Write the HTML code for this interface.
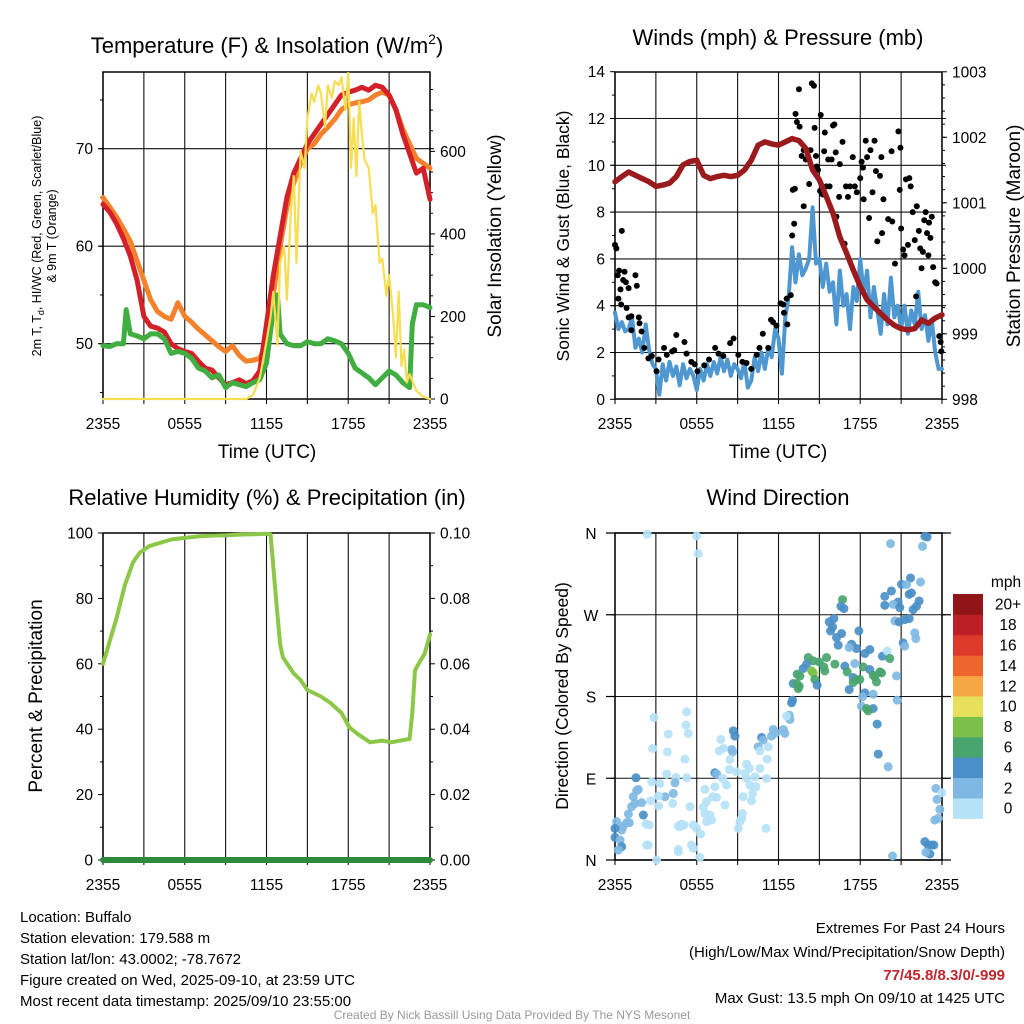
<!DOCTYPE html>
<html><head><meta charset="utf-8">
<style>
html,body{margin:0;padding:0;background:#fff;}
svg{display:block;font-family:"Liberation Sans",Arial,sans-serif;}
</style></head>
<body>
<svg id="c" width="1024" height="1024" viewBox="0 0 1024 1024">
<g id="g1"></g>
<g id="g2"></g>
<g id="g3"></g>
<g id="g4"></g>
<g fill="#000">
<text x="267" y="53" font-size="22" text-anchor="middle">Temperature (F) &amp; Insolation (W/m<tspan font-size="14" dy="-9">2</tspan><tspan dy="9">)</tspan></text>
<text x="778" y="45" font-size="22" text-anchor="middle">Winds (mph) &amp; Pressure (mb)</text>
<text x="267" y="505" font-size="22" text-anchor="middle">Relative Humidity (%) &amp; Precipitation (in)</text>
<text x="778" y="505" font-size="22" text-anchor="middle">Wind Direction</text>
<text transform="translate(41,236) rotate(-90)" font-size="12.5" text-anchor="middle">2m T, T<tspan font-size="9" dy="3">d</tspan><tspan dy="-3">, HI/WC (Red, Green, Scarlet/Blue)</tspan></text>
<text transform="translate(56,236) rotate(-90)" font-size="12.5" text-anchor="middle">&amp; 9m T (Orange)</text>
<text transform="translate(501,236) rotate(-90)" font-size="19" text-anchor="middle">Solar Insolation (Yellow)</text>
<text x="267" y="458" font-size="19" text-anchor="middle">Time (UTC)</text>
<text transform="translate(569,236) rotate(-90)" font-size="17.5" text-anchor="middle">Sonic Wind &amp; Gust (Blue, Black)</text>
<text transform="translate(1020,236) rotate(-90)" font-size="19" text-anchor="middle">Station Pressure (Maroon)</text>
<text x="778" y="458" font-size="19" text-anchor="middle">Time (UTC)</text>
<text transform="translate(42,696) rotate(-90)" font-size="19" text-anchor="middle">Percent &amp; Precipitation</text>
<text transform="translate(568,696) rotate(-90)" font-size="17.5" text-anchor="middle">Direction (Colored By Speed)</text>
</g>
<g font-size="15" fill="#000">
<text x="20" y="922">Location: Buffalo</text>
<text x="20" y="943">Station elevation: 179.588 m</text>
<text x="20" y="964">Station lat/lon: 43.0002; -78.7672</text>
<text x="20" y="985">Figure created on Wed, 2025-09-10, at 23:59 UTC</text>
<text x="20" y="1006">Most recent data timestamp: 2025/09/10 23:55:00</text>
</g>
<g font-size="15" fill="#000" text-anchor="end">
<text x="1005" y="933">Extremes For Past 24 Hours</text>
<text x="1005" y="957">(High/Low/Max Wind/Precipitation/Snow Depth)</text>
<text x="1005" y="980" fill="#c0272d" font-weight="bold">77/45.8/8.3/0/-999</text>
<text x="1005" y="1003">Max Gust: 13.5 mph On 09/10 at 1425 UTC</text>
</g>
<text x="512" y="1019" font-size="12" fill="#999" text-anchor="middle">Created By Nick Bassill Using Data Provided By The NYS Mesonet</text>
</svg>
<script>
// ---- data (hours since 2355 UTC) ----
const xTickLabels = ["2355","0555","1155","1755","2355"];
const tempT = [0,0.5,1,1.5,2,2.5,3,3.5,4,4.5,5,5.5,6,6.5,7,7.5,8,8.5,9,9.5,10,10.5,11,11.5,12,12.5,13,13.5,14,14.5,15,15.5,16,16.5,17,17.5,18,18.5,19,19.5,20,20.5,21,21.5,22,22.5,23,23.5,24];
const tempRed = [64.3,63.5,62.3,60.8,59,56.5,52.8,51.8,51.6,51.2,50,49.5,49.2,49,48.2,47.5,47.3,46.5,45.8,46,46.3,45.9,46.2,47.2,52,57,61,65,67.5,69,70.5,71.5,72.5,73.5,74.5,75.5,75.8,76,76.3,76,76.5,76.3,75.5,74,71.5,69.5,67.5,68,64.8];
const tempOrange = [65,64,63,61.8,60.5,58.5,56.5,54.5,53.3,52.8,52.5,54.2,52.8,52.2,51.5,50.9,50.3,49.7,49.2,49.8,48.8,48.2,48.3,48.5,50,55,60,64,66.5,68.5,70,70.5,71.5,72.2,73,74,74.5,74.7,74.8,75,75.5,75.8,75.5,74,72,70.5,69,68.5,68];
const dewT = [0,0.5,1,1.5,1.7,2,2.5,3,3.5,4,4.5,5,5.5,6,6.5,7,7.5,8,8.5,9,9.5,10,10.5,11,11.5,12,12.5,12.8,13,13.5,14,14.5,15,15.5,16,16.5,17,17.5,18,18.5,19,19.5,20,20.5,21,21.5,22,22.5,22.7,23,23.5,24];
const dewGreen = [49.8,49.7,50,50,53.5,51,50.8,50.5,51,51,50.5,49,49.2,49,48.5,47.5,47.2,46.5,46.8,45.5,46,45.8,45.6,46,46.3,48,53.5,55,51,50,49.8,49.8,50.2,50,50,50.5,50.3,50,49,47.5,47,46.5,45.8,46.5,47.2,46.8,46,45.5,52,54,54,53.7];
const solarT = [0,10.5,11,11.5,12,12.3,12.5,12.8,13,13.3,13.5,13.8,14,14.2,14.5,14.8,15,15.3,15.5,15.8,16,16.3,16.5,16.8,17,17.3,17.5,17.8,18,18.2,18.4,18.6,18.8,19,19.2,19.5,19.8,20,20.3,20.5,20.8,21,21.3,21.5,21.7,21.9,22.1,22.3,22.5,23,23.5,24];
const solarVal = [0,0,10,50,140,200,260,130,330,370,240,460,540,330,600,560,680,740,720,760,740,660,760,730,770,760,780,700,790,560,680,540,720,640,580,560,450,470,330,340,250,300,200,100,260,80,120,40,60,20,5,0];
const windT = [0,0.25,0.5,0.75,1,1.25,1.5,1.75,2,2.25,2.5,2.75,3,3.25,3.5,3.75,4,4.25,4.5,4.75,5,5.25,5.5,5.75,6,6.25,6.5,6.75,7,7.25,7.5,7.75,8,8.25,8.5,8.75,9,9.25,9.5,9.75,10,10.25,10.5,10.75,11,11.25,11.5,11.75,12,12.25,12.5,12.75,13,13.25,13.5,13.75,14,14.25,14.5,14.75,15,15.25,15.5,15.75,16,16.25,16.5,16.75,17,17.25,17.5,17.75,18,18.25,18.5,18.75,19,19.25,19.5,19.75,20,20.25,20.5,20.75,21,21.25,21.5,21.75,22,22.25,22.5,22.75,23,23.25,23.5,23.75,24];
const windVal = [3.7,3.0,3.3,2.9,3.0,3.5,2.2,2.6,2.0,3.2,2.1,1.5,1.3,0.2,1.5,0.8,1.6,1.0,1.4,0.6,1.5,0.9,1.3,1.0,0.4,1.3,0.8,1.5,1.0,1.6,1.1,1.8,1.2,1.7,1.0,1.5,1.3,0.9,1.6,0.5,0.8,1.8,1.2,2.0,1.3,2.2,1.8,3.0,2.6,1.1,3.5,4.4,6.5,5.0,6.2,5.3,5.6,6.0,8.2,5.8,6.0,4.8,5.8,4.6,5.0,3.2,5.5,4.0,4.5,3.0,4.8,4.2,6.0,4.5,5.5,3.5,4.8,3.8,2.8,4.5,3.2,5.2,3.5,4.0,3.0,4.0,2.8,3.8,3.2,4.6,3.0,3.6,2.5,3.4,2.0,1.3,1.3];
const presT = [0,0.5,1,1.5,2,2.5,3,3.5,4,4.5,5,5.5,6,6.5,7,7.5,8,8.5,9,9.5,10,10.5,11,11.5,12,12.5,13,13.5,14,14.5,15,15.5,16,16.5,17,17.5,18,18.5,19,19.5,20,20.5,21,21.5,22,22.5,23,23.5,24];
const presVal = [1001.32,1001.4,1001.47,1001.42,1001.37,1001.32,1001.25,1001.27,1001.3,1001.4,1001.58,1001.63,1001.65,1001.42,1001.37,1001.4,1001.42,1001.4,1001.42,1001.5,1001.65,1001.88,1001.93,1001.9,1001.88,1001.93,1001.98,1001.95,1001.83,1001.5,1001.35,1001.1,1000.84,1000.48,1000.23,999.97,999.72,999.52,999.41,999.31,999.21,999.13,999.08,999.06,999.08,999.21,999.16,999.24,999.29];
const gustT = [0,0.1,0.5,0.2,0.3,0.7,0.6,0.8,0.4,1.0,1.5,1.6,0.25,0.45,0.85,1.0,1.2,1.75,1.8,1.2,1.95,2.15,2.45,2.7,3.05,3.2,3.6,3.8,4.2,4.5,4.35,5.1,5.25,5.6,5.85,6.05,6.55,6.9,7.35,7.6,7.95,8.45,8.7,9.05,9.35,9.65,10.0,10.4,10.6,10.85,11.25,11.45,11.6,11.85,12.15,12.35,12.6,12.4,12.65,12.9,13.0,13.15,13.05,13.2,13.25,13.35,13.5,13.55,13.7,13.85,13.85,14.0,14.25,14.35,14.45,14.6,14.65,14.75,14.8,14.9,15.1,15.05,15.25,15.4,15.35,15.5,15.65,15.75,15.9,16.0,16.1,16.2,16.25,16.45,16.5,16.7,16.85,16.95,17.1,17.25,17.45,17.6,17.75,18.0,18.1,18.2,18.25,18.4,18.5,18.65,18.75,18.9,19.05,19.15,19.25,19.45,19.55,19.6,19.7,20.05,20.3,20.35,20.55,20.8,20.9,20.95,21.0,21.15,21.25,21.35,21.5,21.6,21.7,21.85,22.0,22.1,22.15,22.3,22.4,22.5,22.6,22.7,22.8,22.9,23.0,23.05,23.15,23.25,23.35,23.5,23.6,23.8,23.9,23.95];
const gustVal = [6.6,6.45,7.2,5.3,5.5,5.45,5.1,5.0,4.7,4.75,5.3,4.85,4.3,4.05,3.9,3.5,3.55,3.5,3.25,2.95,2.9,2.2,1.75,1.85,1.2,1.7,2.2,1.9,2.05,2.75,2.1,2.45,1.95,1.6,1.5,1.2,1.45,1.7,2.2,1.95,1.85,2.4,2.6,1.9,1.6,1.55,1.3,1.9,2.2,2.8,2.2,3.4,3.3,3.15,4.1,4.05,4.3,3.7,3.2,4.45,7.0,7.5,8.95,9.0,12.2,11.85,13.25,11.65,10.4,8.25,10.65,10.25,9.2,10.65,13.5,13.4,11.6,10.4,9.95,9.8,12.15,8.9,8.75,11.4,10.6,9.1,10.25,9.1,10.25,11.7,11.75,10.55,7.8,8.65,10.05,11.0,6.65,9.1,8.65,9.1,10.35,9.1,8.85,9.45,10.15,9.9,8.55,11.05,10.35,7.75,10.65,8.85,11.05,9.75,6.75,9.55,10.35,7.1,8.55,7.7,10.6,7.6,5.8,11.45,8.95,10.75,7.3,6.4,6.15,9.4,6.6,9.45,9.1,8.0,6.8,4.4,8.25,7.2,6.45,5.6,6.3,7.65,8.0,7.1,6.15,7.55,6.9,7.8,5.65,5.0,4.95,2.7,2.45,2.05];
const rhT = [0,0.5,1,1.6,2.2,2.7,3.4,4.2,5,6,7.1,8,9,10,11,12,12.3,12.7,13,13.2,14,14.5,15,16,16.7,17.5,18.1,18.7,19.6,20.5,21.2,21.8,22.5,22.7,22.9,23.3,23.6,24];
const rhVal = [60,67,74,84,91,94,96,97,98,98.5,99,99.2,99.3,99.5,99.6,99.8,99.5,80,66,62,57,55,52,50,48,45,40.5,38.5,36,36.5,36,36.5,37,45,58,61,63,69];
const precipT = [0,24];
const precipVal = [0,0];
const dirT = [2.37,5.99,6.11,20.22,22.74,22.91,22.57,21.69,22.42,21.03,21.39,20.29,19.8,21.76,21.59,22.32,22.13,19.8,20.78,20.42,20.9,21.88,21.59,21.27,20.54,20.86,16.7,16.58,16.8,16.06,15.72,15.82,15.97,16.26,16.63,16.38,17.9,17.36,17.73,17.19,18.34,18.7,19.63,19.98,20.17,21.15,21.27,22.0,22.08,14.18,14.55,15.53,14.99,16.14,15.33,14.06,13.81,14.43,14.55,13.37,13.57,15.4,16.87,17.04,17.6,18.22,18.7,19.44,19.56,18.95,19.07,19.19,20.66,17.48,17.73,17.97,17.48,17.19,18.34,18.17,18.95,18.09,18.95,18.46,18.58,14.67,14.84,13.08,13.33,13.52,13.45,13.03,12.96,20.71,19.24,19.32,20.05,12.79,12.84,12.59,11.61,11.81,12.35,12.47,11.49,10.76,10.88,10.51,10.64,11.25,11.17,8.68,8.8,8.56,8.63,7.78,7.95,7.65,8.44,8.39,7.33,7.46,7.9,9.66,9.85,9.54,10.64,9.66,10.27,11.12,8.92,9.9,10.34,10.1,10.02,9.41,8.19,8.07,7.33,7.16,6.72,6.48,6.6,6.97,7.09,6.72,7.46,6.6,9.36,9.29,9.17,9.05,11.08,5.5,5.26,5.13,5.26,5.21,5.38,3.91,3.84,2.86,2.76,3.79,4.47,4.4,4.28,3.67,3.3,3.2,4.23,3.2,2.69,2.62,1.54,1.71,1.59,1.34,1.47,1.22,0.98,0.86,1.05,0.61,0.49,0.12,0,0,0.37,0.49,0.24,1.96,2.08,2.27,2.52,2.32,2.44,3.06,4.65,4.89,5.06,4.77,5.75,5.99,6.28,5.62,5.75,4.65,4.65,6.23,20.37,22.74,22.98,23.23,23.4,23.11,22.81,23.55,23.64,23.84,23.72,23.47,24.0];
const dirDeg = [358.5,356.7,337.3,348.3,356.3,355.6,345.3,310.5,306.1,303.5,303.2,296.2,290.3,294,292.5,285.2,279.3,280.4,284.1,281.5,277.9,275.7,265.8,264.7,263.2,262.1,286.7,279.3,276.8,265.8,262.1,252.2,256.6,244.9,249.3,236.5,252.2,237.6,232.8,233.9,227.3,231.7,224.4,229.9,221.8,239,235.4,250,243.8,222.9,219.2,222.9,218.1,215.6,212.6,215.6,210.8,208.2,206,204.6,202.4,208.2,213.4,207.1,216.3,212.6,209.7,207.1,206,203.5,201.6,196.1,202.7,200.9,198.7,198.7,195.4,187.7,184,179.6,182.6,169.4,166.8,166.8,164.2,198.7,192.5,194.3,194.3,191.4,188.8,176,173,176,149.6,116.6,102.6,159.5,154.7,158.4,143.7,140,143.7,139.3,136.4,134.9,132,124.6,120.2,124.6,111.1,142.2,136.4,121.7,119.1,132.7,122.8,120.2,110.7,99.7,96,94.6,89.8,105.6,100.8,95.3,100.8,89.8,91.6,89.8,97.1,82.5,80.7,73.3,65.3,69.7,82.5,60.5,80.7,69.7,64.2,57.9,51.3,49.5,44,42.2,68.9,77.7,51.3,45.8,42.2,34.8,34.8,58.7,90.5,111.1,163.1,148.5,139.3,138.6,119.1,156.9,122.8,94.6,90.9,85,73.3,69.7,84.3,70.4,62.3,59.4,86.1,65.3,90.5,77.7,76.3,69.7,62.3,58.7,50.6,41.1,41.1,37.4,33,42.2,34.8,24.9,22,14.7,11,63.1,49.5,39.6,38.5,16.5,16.5,0,37.4,39.6,38.5,36.7,38.5,34.8,28.6,16.5,12.8,11.7,9.2,2.9,4.4,20.2,16.5,16.5,16.5,6.6,8.4,78.8,66.7,55.7,45.8,44,74.1];
// speed class codes per point: a=0-2, b=2-4, c=4-6, g=6-8, l=8-10 mph
const dirSpdCodes = ("aaabccbcbcbcccccccc"+"b"+"cccc"+"b"+"c"+"g"+"cccccccccccc"+"b"+"ccc"+"a"+"g"+"c"+"bbb"
 +"gggggg"+"cc"+"ll"+"ggg"+"c"+"g"+"b"+"g"+"c"+"ggggg"+"b"+"c"+"ggg"+"cc"+"bbb"+"c"+"ggg"+"cc"+"ggg"+"cc"+"b"+"cc"+"b"+"bb"+"a"+"bbbbb"+"c"+"bb"+"aaa"+"cc"+"bb"+"aaaaa"+"c"+"b"+"a"
 +"aaaaaaaaaaaaaaaaaaaaaaaaaaaaaa"+"aaaaaaaaaaaa"+"bbb"+"aaaaaa"+"c"+"bbbbbbbbbbb"+"cc"+"b"+"c"+"b"+"b"+"c"+"aaaaa"+"aaaaaaaaaaaa"+"b"+"ccccc"+"b"+"bbbbb"+"a").split("");
const speedLevels = ["0","2","4","6","8","10","12","14","16","18","20+"];
const speedColors = ["#b5e2f7","#7fb9e3","#4a8fc7","#49a56e","#7bc04a","#e6e05a","#f6a744","#ef652e","#de3a2c","#bd1f26","#8f1519"];

// ---- helpers ----
const NS="http://www.w3.org/2000/svg";
function mk(parent,tag,attrs){const e=document.createElementNS(NS,tag);for(const k in attrs)e.setAttribute(k,attrs[k]);parent.appendChild(e);return e;}
function txt(parent,x,y,s,size,anchor){const e=mk(parent,"text",{x:x,y:y,"font-size":size,"text-anchor":anchor||"middle"});e.textContent=s;return e;}

const PL={x0:103,x1:430}, PR={x0:615,x1:942};
function xs(p,t){return p.x0+(p.x1-p.x0)*t/24;}

function frame(g,p,y0,y1,hGrid,xlabels){
  for(let i=0;i<=8;i++){const x=xs(p,i*3);
    const l=mk(g,"line",{x1:x,x2:x,y1:y0,y2:y1+5,stroke:"#111","stroke-width":1.1});
    
    }
  hGrid.forEach(y=>{const l=mk(g,"line",{x1:p.x0-4,x2:p.x1+4,y1:y,y2:y,stroke:"#111","stroke-width":1.1});
    
    });
  const r=mk(g,"rect",{x:p.x0,y:y0,width:p.x1-p.x0,height:y1-y0,fill:"none",stroke:"#000","stroke-width":1.5});
  
  
  if(xlabels){xTickLabels.forEach((s,i)=>{const e=txt(g,xs(p,i*6),y1+30,s,15.5);
    
    });}
}
function path(g,ts,vs,xf,yf,color,w,name){
  let d="";ts.forEach((t,i)=>{d+=(i?"L":"M")+xf(t).toFixed(1)+" "+yf(vs[i]).toFixed(1);});
  const e=mk(g,"path",{d:d,fill:"none",stroke:color,"stroke-width":w,"stroke-linejoin":"round","stroke-linecap":"round"});
  
  
  return e;
}
function leftTicks(g,p,vals,yf,labels,minor){
  vals.forEach((v,i)=>{const y=yf(v);mk(g,"line",{x1:p.x0-5,x2:p.x0,y1:y,y2:y,stroke:"#000"});
    if(labels){const e=txt(g,p.x0-10,y+5.5,labels[i],15.5,"end");
      
      }});
  (minor||[]).forEach(v=>{const y=yf(v);mk(g,"line",{x1:p.x0-3,x2:p.x0,y1:y,y2:y,stroke:"#000"});});
}
function rightTicks(g,p,vals,yf,labels,minor){
  vals.forEach((v,i)=>{const y=yf(v);mk(g,"line",{x1:p.x1,x2:p.x1+5,y1:y,y2:y,stroke:"#000"});
    const e=txt(g,p.x1+10,y+5.5,labels[i],15.5,"start");
    
    });
  (minor||[]).forEach(v=>{const y=yf(v);mk(g,"line",{x1:p.x1,x2:p.x1+3,y1:y,y2:y,stroke:"#000"});});
}

// ---- panel 1: temperature ----
(function(){
  const g=document.getElementById("g1");
  const yT=v=>343.7-(v-50)*9.75, yS=v=>399-v*0.4127;
  const xf=t=>xs(PL,t);
  frame(g,PL,72,399,[yT(50),yT(60),yT(70)],true);
  leftTicks(g,PL,[50,60,70],yT,["50","60","70"],[45,55,65,75]);
  rightTicks(g,PL,[0,200,400,600],yS,["0","200","400","600"],[50,100,150,250,300,350,450,500,550,650,700,750]);
  path(g,tempT,tempOrange,xf,yT,"#f4812c",5,"temp-9m-orange-line");
  path(g,tempT,tempRed,xf,yT,"#d42028",5,"temp-2m-red-line");
  path(g,dewT,dewGreen,xf,yT,"#40ae40",5,"dewpoint-green-line");
  path(g,solarT,solarVal,xf,yS,"#f7dd52",2.2,"solar-yellow-line");
})();

// ---- panel 2: wind & pressure ----
(function(){
  const g=document.getElementById("g2");
  const yW=v=>399.3-v*23.4, yP=v=>399.3-(v-998)*65.5;
  const xf=t=>xs(PR,t);
  frame(g,PR,72,399,[2,4,6,8,10,12].map(yW),true);
  leftTicks(g,PR,[0,2,4,6,8,10,12,14],yW,["0","2","4","6","8","10","12","14"],[1,3,5,7,9,11,13]);
  const mn=[];for(let v=998.2;v<1003;v+=0.2)mn.push(v);
  rightTicks(g,PR,[998,999,1000,1001,1002,1003],yP,["998","999","1000","1001","1002","1003"],mn);
  path(g,windT,windVal,xf,yW,"#4f97d0",4,"sonic-wind-blue-line");
  gustT.forEach((t,i)=>{const c=mk(g,"circle",{cx:xf(t),cy:yW(gustVal[i]),r:3,fill:"#000"});
    
    });
  path(g,presT,presVal,xf,yP,"#9a1a1d",5.5,"pressure-maroon-line");
})();

// ---- panel 3: RH ----
(function(){
  const g=document.getElementById("g3");
  const yR=v=>860-v*3.27, yPr=v=>860-v*3270;
  const xf=t=>xs(PL,t);
  frame(g,PL,533,860,[],true);
  leftTicks(g,PL,[0,20,40,60,80,100],yR,["0","20","40","60","80","100"],[10,30,50,70,90]);
  rightTicks(g,PL,[0,0.02,0.04,0.06,0.08,0.10],yPr,["0.00","0.02","0.04","0.06","0.08","0.10"],[0.01,0.03,0.05,0.07,0.09]);
  path(g,rhT,rhVal,xf,yR,"#8cc747",4,"humidity-line");
  path(g,precipT,precipVal,xf,yPr,"#2d8a3a",6,"precipitation-line");
})();

// ---- panel 4: wind direction ----
(function(){
  const g=document.getElementById("g4");
  const yD=v=>860-v*0.9083;
  const xf=t=>xs(PR,t);
  frame(g,PR,533,860,[90,180,270].map(yD),true);
  [0,360].forEach(v=>{mk(g,"line",{x1:PR.x0-9,x2:PR.x1+9,y1:yD(v),y2:yD(v),stroke:"#000","stroke-width":1.2});});
  [90,180,270].forEach(v=>{mk(g,"line",{x1:PR.x0-9,x2:PR.x0,y1:yD(v),y2:yD(v),stroke:"#000","stroke-width":1.2});
    mk(g,"line",{x1:PR.x1,x2:PR.x1+9,y1:yD(v),y2:yD(v),stroke:"#000","stroke-width":1.2});});
  const dl=["N","E","S","W","N"];
  [0,90,180,270,360].forEach((v,i)=>{const e=txt(g,PR.x0-24,yD(v)+6,dl[i],15.5,"middle");
    
    });
  const codeSpeed={a:1,b:3,c:5,g:7,l:9};
  dirT.forEach((t,i)=>{const s=codeSpeed[dirSpdCodes[i]]||1;const ci=Math.min(10,Math.floor(s/2));
    const c=mk(g,"circle",{cx:xf(t),cy:yD(dirDeg[i]),r:4.5,fill:speedColors[ci],"fill-opacity":0.92});
    
    });
  // colorbar
  const cb=mk(g,"g",{});
  
  
  const top=594,h=20.4;
  const u=txt(cb,1006,587,"mph",15.5,"middle");
  
  
  for(let i=0;i<11;i++){const y=top+(10-i)*h;
    const r=mk(cb,"rect",{x:953,y:y,width:30,height:h+0.5,fill:speedColors[i]});
    
    
    const e=txt(cb,1008,y+h/2+5.5,speedLevels[i],15.5,"middle");
    
    }
})();
</script>
</body></html>
